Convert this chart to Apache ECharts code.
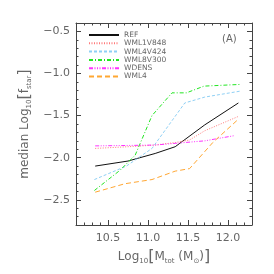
<!DOCTYPE html>
<html>
<head>
<meta charset="utf-8">
<script src="https://cdn.jsdelivr.net/npm/echarts@6/dist/echarts.min.js"></script>
<style>html,body{margin:0;padding:0;background:#fff}#c{width:274px;height:274px}</style>
</head>
<body>
<div id="c"></div>
<script>
// Data: [log10 Mtot, median log10 fstar]
const seriesNames = ['REF', 'WML1V848', 'WML4V424', 'WML8V300', 'WDENS', 'WML4'];
const refData = [[10.34,-2.10],[10.75,-2.04],[11.09,-1.95],[11.34,-1.87],[11.71,-1.61],[12.13,-1.35]];
const wml1v848Data = [[10.34,-1.89],[10.75,-1.87],[11.09,-1.85],[11.34,-1.82],[11.52,-1.79],[11.71,-1.68],[12.13,-1.51]];
const wml4v424Data = [[10.33,-2.26],[10.73,-2.10],[11.05,-1.89],[11.46,-1.35],[11.71,-1.28],[12.15,-1.21]];
const wml8v300Data = [[10.33,-2.39],[10.65,-2.15],[10.84,-1.97],[11.05,-1.50],[11.30,-1.23],[11.48,-1.23],[11.70,-1.15],[12.15,-1.13]];
const wdensData = [[10.34,-1.86],[10.75,-1.855],[11.09,-1.85],[11.34,-1.83],[11.71,-1.80],[12.07,-1.74]];
const wml4Data = [[10.34,-2.41],[10.71,-2.31],[11.05,-2.26],[11.34,-2.16],[11.52,-2.13],[11.81,-1.82],[12.11,-1.56]];
const xMajorTicks = [10.5, 11.0, 11.5, 12.0];
const yMajorTicks = [-2.5, -2.0, -1.5, -1.0, -0.5];

const allData = [refData, wml1v848Data, wml4v424Data, wml8v300Data, wdensData, wml4Data];
const colors = ['#111111', '#ff7b7b', '#8fd0f5', '#22e622', '#ff33ff', '#ffa733'];
const dashes = ['solid', [1, 1.5], [3, 2], [4, 2, 1, 2], [4, 1.5, 1, 1.5, 1, 1.5, 1, 1.5], [5, 3]];

const fmt = v => (v < 0 ? '\u2212' : '') + Math.abs(v).toFixed(1);
const FONT = 'DejaVu Sans';
const axisCol = '#444';

function xAxisMaj(pos, labels) {
  return {
    type: 'value', position: pos, min: 10.1, max: 12.3,
    axisLine: { show: true, onZero: false, lineStyle: { color: axisCol, width: 1 } },
    axisTick: { show: true, inside: true, length: 5, customValues: xMajorTicks, lineStyle: { color: axisCol } },
    axisLabel: { show: labels, customValues: xMajorTicks, formatter: fmt, color: '#666', fontSize: 11, fontFamily: FONT, margin: 8 },
    splitLine: { show: false }
  };
}
function xAxisMin(pos) {
  return {
    type: 'value', position: pos, min: 10.1, max: 12.3, interval: 0.1,
    axisLine: { show: false, onZero: false },
    axisTick: { show: true, inside: true, length: 2.5, lineStyle: { color: axisCol } },
    axisLabel: { show: false }, splitLine: { show: false }
  };
}
function yAxisMaj(pos, labels) {
  return {
    type: 'value', position: pos, min: -2.8, max: -0.4,
    axisLine: { show: true, onZero: false, lineStyle: { color: axisCol, width: 1 } },
    axisTick: { show: true, inside: true, length: 5, customValues: yMajorTicks, lineStyle: { color: axisCol } },
    axisLabel: { show: labels, customValues: yMajorTicks, formatter: fmt, color: '#666', fontSize: 11, fontFamily: FONT, margin: 6 },
    splitLine: { show: false }
  };
}
function yAxisMin(pos) {
  return {
    type: 'value', position: pos, min: -2.8, max: -0.4, interval: 0.1,
    axisLine: { show: false, onZero: false },
    axisTick: { show: true, inside: true, length: 2.5, lineStyle: { color: axisCol } },
    axisLabel: { show: false }, splitLine: { show: false }
  };
}

const richStyles = {
  n: { fontSize: 12, lineHeight: 16, fontFamily: FONT, color: '#666' },
  s: { fontSize: 7, lineHeight: 6, verticalAlign: 'bottom', fontFamily: FONT, color: '#666' },
  b: { fontSize: 16, lineHeight: 16, fontFamily: FONT, color: '#666' }
};

const xb = xAxisMaj('bottom', true);
xb.name = '{n|Log}{s|10}{b|[}{n|M}{s|tot}{n| (M}{s|\u2299}{n|)}{b|]}';
xb.nameLocation = 'middle';
xb.nameGap = 21;
xb.nameTextStyle = { color: '#666', fontFamily: FONT, verticalAlign: 'top', rich: richStyles };
const yl = yAxisMaj('left', true);
yl.name = '{n|median Log}{s|10}{b|[}{n|f}{s|star}{b|]}';
yl.nameLocation = 'middle';
yl.nameGap = 41;
yl.nameRotate = 90;
yl.nameTextStyle = { color: '#666', fontFamily: FONT, rich: richStyles };

const chart = echarts.init(document.getElementById('c'), null, { renderer: 'canvas' });
chart.setOption({
  animation: false,
  backgroundColor: '#fff',
  grid: { left: 76, right: 22, top: 23, bottom: 49, containLabel: false },
  xAxis: [xb, xAxisMaj('top', false), xAxisMin('bottom'), xAxisMin('top')],
  yAxis: [yl, yAxisMaj('right', false), yAxisMin('left'), yAxisMin('right')],
  legend: {
    orient: 'vertical', left: 88, top: 31, padding: 0,
    itemWidth: 30, itemHeight: 8, itemGap: 0.3,
    itemStyle: { opacity: 0 },
    textStyle: { fontSize: 7.5, fontFamily: FONT, color: '#666', lineHeight: 8 },
    data: seriesNames
  },
  graphic: [{
    type: 'text', left: 222, top: 34,
    style: { text: '(A)', fontSize: 10, fontFamily: FONT, fill: '#666' }
  }],
  series: seriesNames.map((n, i) => ({
    name: n, type: 'line', data: allData[i], xAxisIndex: 0, yAxisIndex: 0,
    symbol: 'none', color: colors[i],
    lineStyle: { color: colors[i], width: 1, type: dashes[i] }
  }))
});
</script>
</body>
</html>
